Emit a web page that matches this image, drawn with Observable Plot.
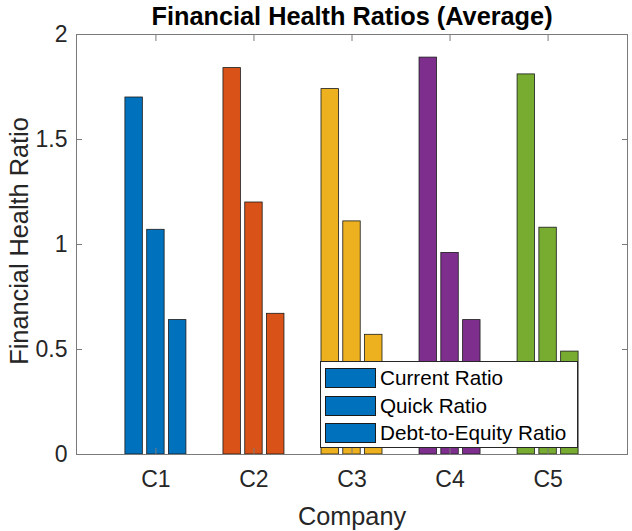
<!DOCTYPE html>
<html>
<head>
<meta charset="utf-8">
<script src="https://cdn.jsdelivr.net/npm/d3@7"></script>
<script src="https://cdn.jsdelivr.net/npm/@observablehq/plot@0.6"></script>
<style>
  body { margin: 0; background: #fff; }
  #wrap { position: relative; width: 632px; height: 531px; font-family: "Liberation Sans", Arial, Helvetica, sans-serif; }
  #legend { position: absolute; left: 320px; top: 361px; width: 258px; height: 87px; box-sizing: border-box;
            border: 1px solid #262626; background: #fff; padding-top: 2px; }
  .row { height: 27.7px; display: flex; align-items: center; padding-left: 4px; }
  .sw { width: 51px; height: 20px; box-sizing: border-box; border: 1px solid #1a1a1a; margin-right: 4px; }
  .lab { font-size: 20.7px; color: #000; white-space: nowrap; }
</style>
</head>
<body>
<div id="wrap"></div>
<script>
const companies = ["C1", "C2", "C3", "C4", "C5"];
const metrics = ["Current Ratio", "Quick Ratio", "Debt-to-Equity Ratio"];
const currentRatio = [1.70, 1.84, 1.74, 1.89, 1.81];
const quickRatio = [1.07, 1.20, 1.11, 0.96, 1.08];
const debtToEquity = [0.64, 0.67, 0.57, 0.64, 0.49];
const companyColors = ["#0072BD", "#D95319", "#EDB120", "#7E2F8E", "#77AC30"];
const legendColor = "#0072BD";
const yTicks = [0, 0.5, 1, 1.5, 2];
const yTickLabels = ["0", "0.5", "1", "1.5", "2"];
const titleText = "Financial Health Ratios (Average)";
const xLabel = "Company";
const yLabel = "Financial Health Ratio";

const seriesValues = [currentRatio, quickRatio, debtToEquity];
const nS = metrics.length;
const groupWidth = Math.min(0.8, nS / (nS + 1.5));
const step = groupWidth / nS;
const barW = step * 0.8;
const rows = [];
companies.forEach((c, i) => {
  seriesValues.forEach((vals, j) => {
    const center = (i + 1) + (j - (nS - 1) / 2) * step;
    rows.push({company: c, metric: metrics[j], value: vals[i], x1: center - barW / 2, x2: center + barW / 2});
  });
});
const xTickVals = companies.map((c, i) => i + 1);

const font = "'Liberation Sans', Arial, Helvetica, sans-serif";
const axisStroke = "#7a7a7a";

const chart = Plot.plot({
  width: 632,
  height: 531,
  marginLeft: 76,
  marginRight: 5,
  marginTop: 34,
  marginBottom: 77,
  style: {fontFamily: font, fontSize: "23px", background: "#fff", color: "#262626"},
  x: {type: "linear", domain: [0.19, 5.81]},
  y: {domain: [0, 2]},
  color: {domain: companies, range: companyColors},
  marks: [
    Plot.rectY(rows, {x1: "x1", x2: "x2", y: "value", fill: "company", stroke: "#1a1a1a", strokeWidth: 0.8}),
    Plot.frame({stroke: axisStroke, strokeWidth: 1}),
    Plot.axisX({anchor: "bottom", ticks: xTickVals, tickFormat: d => companies[d - 1], tickSize: -6, tickPadding: 22, label: null, stroke: axisStroke, fill: "#262626", fontSize: 23}),
    Plot.axisX({anchor: "top", ticks: xTickVals, tickFormat: () => "", tickSize: -6, label: null, stroke: axisStroke}),
    Plot.axisY({anchor: "left", ticks: yTicks, tickFormat: (d, i) => yTickLabels[yTicks.indexOf(d)], tickSize: -6, tickPadding: 15, label: null, stroke: axisStroke, fill: "#262626", fontSize: 23}),
    Plot.axisY({anchor: "right", ticks: yTicks, tickFormat: () => "", tickSize: -6, label: null, stroke: axisStroke}),
    Plot.text([titleText], {frameAnchor: "top", text: d => d, dy: -10, lineAnchor: "bottom", fontSize: 25.3, fontWeight: "bold", fill: "#000"}),
    Plot.text([xLabel], {frameAnchor: "bottom", text: d => d, dy: 70, lineAnchor: "bottom", fontSize: 25.3, fill: "#262626"}),
    Plot.text([yLabel], {frameAnchor: "left", text: d => d, textAnchor: "middle", dx: -49, dy: -3.5, rotate: -90, lineAnchor: "bottom", fontSize: 25.3, fill: "#262626"})
  ]
});

const wrap = document.getElementById("wrap");
wrap.appendChild(chart);
const legend = document.createElement("div");
legend.id = "legend";
metrics.forEach(m => {
  const r = document.createElement("div");
  r.className = "row";
  const sw = document.createElement("div");
  sw.className = "sw";
  sw.style.background = legendColor;
  const lab = document.createElement("span");
  lab.className = "lab";
  lab.textContent = m;
  r.appendChild(sw);
  r.appendChild(lab);
  legend.appendChild(r);
});
wrap.appendChild(legend);
</script>
</body>
</html>
